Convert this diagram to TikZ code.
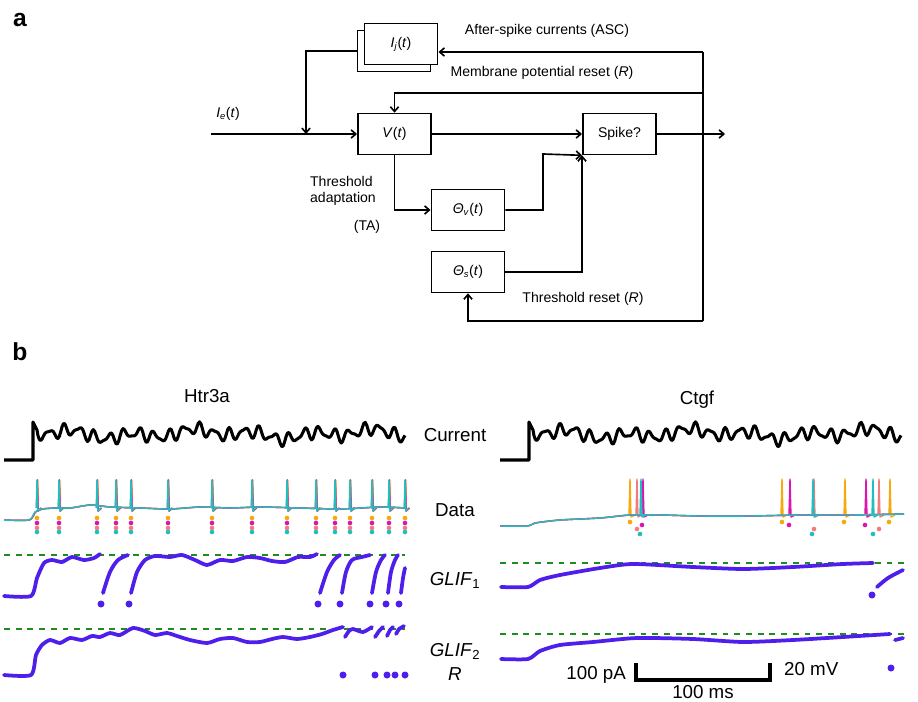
\documentclass[tikz,border=0pt]{standalone}
\usepackage{fontspec}
\setmainfont{Liberation Sans}
\usetikzlibrary{arrows.meta}
\definecolor{dorange}{RGB}{247,168,10}
\definecolor{dmag}{RGB}{222,20,175}
\definecolor{dpink}{RGB}{240,125,125}
\definecolor{dteal}{RGB}{32,190,190}
\definecolor{glif}{RGB}{78,30,235}
\definecolor{thr}{RGB}{30,140,30}

\begin{document}
\begin{tikzpicture}[x=0.03cm, y=-0.03cm,
    box/.style={draw, line width=1.4pt, fill=white, minimum width=2.2cm,
        minimum height=1.23cm, inner sep=0pt, font=\fontsize{12}{14}\selectfont},
    arr/.style={line width=1.4pt, -{Straight Barb[length=4pt,width=7pt]}},
    lab/.style={font=\fontsize{12}{14}\selectfont},
    rowlab/.style={font=\fontsize{16}{20}\selectfont},
    panel/.style={font=\fontsize{21}{24}\selectfont\bfseries},
    cur/.style={line width=2.6pt, line join=round},
    trace/.style={line width=1.2pt, line join=round},
    model/.style={glif, line width=3.2pt, line cap=round, line join=round},
    thresh/.style={thr, line width=1.3pt, dash pattern=on 5pt off 5pt}]
\useasboundingbox (0,0) rectangle (918,702);

% a: model diagram
\node[panel] (pa) at (20,20) {a};
\node[box] (Ijb) at (394,51) {};
\node[box] (Ij) at (401,44) {\textit{I}\textsubscript{\textit{j}}(\textit{t})};
\node[box] (V) at (394.5,134) {\textit{V}(\textit{t})};
\node[box] (Sp) at (619.5,134) {Spike?};
\node[box] (Thv) at (468,210) {\textit{Θ}\textsubscript{\textit{v}}(\textit{t})};
\node[box] (Ths) at (468,272) {\textit{Θ}\textsubscript{\textit{s}}(\textit{t})};

\coordinate (ie) at (211,134);
\coordinate (jn) at (306,134);
\coordinate (asc) at (703,52);
\coordinate (mr) at (703,93);
\coordinate (bot) at (703,321);
\coordinate (out) at (725,134);
\coordinate (tv) at (543,154);

\draw[arr] (ie) -- (ie -| V.west);
\draw[arr] (Ijb.west) -| (jn);
\draw[arr] (asc) -- (asc -| Ij.east);
\draw[line width=1.4pt] (asc) -- (bot);
\draw[arr] (mr) -| (V.north);
\draw[arr] (bot) -| (Ths.south);
\draw[arr] (V.east) -- (Sp.west);
\draw[arr] (Sp.east) -- (out);
\draw[arr] (V.south) |- (Thv.west);
\draw[arr] (Thv.east) -| (tv) -- (Sp.south west);
\draw[arr] (Ths.east) -| (Sp.south west);

\node[lab] (lie) at (228,114) {\textit{I}\textsubscript{\textit{e}}(\textit{t})};
\node[lab] (lasc) at (547,31) {After-spike currents (ASC)};
\node[lab] (lmr) at (542,73) {Membrane potential reset (\textit{R})};
\node[lab] (ltr) at (583,299) {Threshold reset (\textit{R})};
\node[lab, anchor=west, align=left] (lta) at (306,191) {Threshold\\adaptation};
\node[lab] (lta2) at (367,227) {(TA)};

% b: traces
\node[panel] (pb) at (20,352) {b};
\node[rowlab] (htr) at (207,396) {Htr3a};
\node[rowlab] (ctgf) at (697,400) {Ctgf};
\node[rowlab] (lcur) at (455,435) {Current};
\node[rowlab] (ldat) at (455,510) {Data};
\node[rowlab] (lg1) at (455,580) {\textit{GLIF}\textsubscript{1}};
\node[rowlab, align=center] (lg2) at (455,662) {\textit{GLIF}\textsubscript{2}\\\textit{R}};

\foreach \ox in {0,496} {
  \draw[cur] (4+\ox,460) -- (33+\ox,460) -- (33+\ox,422) -- (37+\ox,430)
    -- plot[domain=38:405, samples=260] (\x+\ox, {434 + 5*sin(24*(\x-38))
    + 2.5*sin(37*(\x-38)+40) + 3*sin(6*(\x-38)+60) - 2.5*sin(2.2*\x)});
}

% data, Htr3a
\foreach \c/\o in {dorange/0.6, dpink/0.3, dmag/0.3, dteal/0} {
  \draw[trace, \c, xshift=\o pt] plot[smooth, tension=0.4] coordinates {(4,520) (29,520)
    (35,512) (42,509) (55,508) (70,508) (90,505) (110,507) (140,508) (170,509)
    (200,507) (230,508) (260,507) (300,508) (340,509) (380,507) (405,508)};
  \foreach \s in {37,59,97,116,131,168,212,252,287,316,335,350,372,389,405}
    \draw[trace, \c, xshift=\o pt] (\s-0.8,508) -- (\s,480) -- (\s+0.8,511) -- (\s+4,508);
}
\foreach \s in {37,59,97,116,131,168,212,252,287,316,335,350,372,389,405} {
  \fill[dorange] (\s,518) circle[radius=0.7mm];
  \fill[dmag] (\s,523) circle[radius=0.7mm];
  \fill[dpink] (\s,528) circle[radius=0.7mm];
  \fill[dteal] (\s,532) circle[radius=0.7mm];
}

% data, Ctgf
\foreach \c/\sp in {dorange/{630,782,845,890}, dpink/{637,814,879},
    dmag/{643,790,866}, dteal/{641,813,873}} {
  \draw[trace, \c] plot[smooth, tension=0.4] coordinates {(500,526) (528,526)
    (535,523) (560,520) (600,518) (630,515) (660,515) (700,516) (750,516)
    (800,515) (850,515) (904,514)};
  \foreach \s in \sp
    \draw[trace, \c] (\s-1,515) -- (\s,479) -- (\s+1,517) -- (\s+5,515);
}
\foreach \c/\y/\sp in {dorange/522/{630,782,844,889}, dmag/525/{642,789,865},
    dpink/529/{637,814,879}, dteal/534/{640,812,873}}
  \foreach \s in \sp
    \fill[\c] (\s,\y) circle[radius=0.7mm];

% thresholds
\draw[thresh] (4,555) -- (405,555);
\draw[thresh] (4,629) -- (405,629);
\draw[thresh] (500,563) -- (904,563);
\draw[thresh] (500,634) -- (904,634);

% GLIF1, Htr3a
\draw[model] plot[smooth, tension=0.4] coordinates {(4,596) (31,596) (37,578) (44,563)
  (52,560) (62,562) (72,557) (84,560) (94,558) (100,554)};
\draw[model] plot[smooth, tension=0.5] coordinates {(103,593) (110,572) (118,560) (128,555)};
\draw[model] plot[smooth, tension=0.4] coordinates {(131,593) (137,572) (145,560)
  (155,556) (170,557) (182,555) (195,560) (207,565) (220,560) (233,561) (247,557)
  (260,558) (272,561) (285,562) (298,557) (310,557) (317,554)};
\draw[model] plot[smooth, tension=0.5] coordinates {(320,593) (327,572) (334,560) (340,555)};
\draw[model] plot[smooth, tension=0.5] coordinates {(342,593) (346,572) (352,560) (362,557) (370,555)};
\draw[model] plot[smooth, tension=0.5] coordinates {(372,593) (376,572) (381,560) (385,555)};
\draw[model] plot[smooth, tension=0.5] coordinates {(388,593) (391,572) (395,560) (398,555)};
\draw[model] plot[smooth, tension=0.5] coordinates {(401,593) (403,578) (405,568)};
\foreach \s in {101,129,318,340,370,386,399}
  \fill[glif] (\s,604) circle[radius=1.05mm];

% GLIF2, Htr3a
\draw[model] plot[smooth, tension=0.4] coordinates {(4,675) (31,675) (36,655) (42,645)
  (50,640) (60,643) (70,638) (82,640) (92,636) (100,637) (110,633) (120,635)
  (133,628) (145,631) (155,635) (167,633) (177,636) (190,640) (207,643) (220,639)
  (233,638) (247,642) (260,642) (272,639) (283,637) (297,639) (310,637) (322,634)
  (333,630) (343,627)};
\draw[model] plot[smooth, tension=0.4] coordinates {(345,637) (349,631) (353,629) (363,632) (372,627)};
\draw[model] (375,637) -- (379,631) -- (383,627);
\draw[model] (387,636) -- (390,630) -- (393,627);
\draw[model] (396,634) -- (399,629) -- (404,626);
\foreach \s in {343,375,387,395,405}
  \fill[glif] (\s,675) circle[radius=1.05mm];

% GLIF1 and GLIF2, Ctgf
\draw[model] plot[smooth, tension=0.4] coordinates {(501,587) (528,587) (540,580)
  (560,575) (600,568) (633,564) (693,567) (743,569) (793,567) (843,564) (873,563)};
\draw[model] plot[smooth, tension=0.5] coordinates {(877,587) (888,578) (903,570)};
\fill[glif] (872,595) circle[radius=1.05mm];
\draw[model] plot[smooth, tension=0.4] coordinates {(501,659) (528,659) (540,651)
  (560,645) (593,642) (637,638) (693,639) (743,642) (793,640) (843,637) (890,634)};
\draw[model] (895,640) -- (903,638);
\fill[glif] (891,668) circle[radius=1.05mm];

% scale bar
\draw[line width=3.5pt] (636,663) -- (636,680) -- (770,680) -- (770,663);
\node[rowlab, anchor=east] (spa) at (630,675) {100 pA};
\node[rowlab, anchor=west] (smv) at (780,669) {20 mV};
\node[rowlab, anchor=base, inner sep=0pt] (sms) at (703,698) {100 ms};
\end{tikzpicture}
\end{document}
